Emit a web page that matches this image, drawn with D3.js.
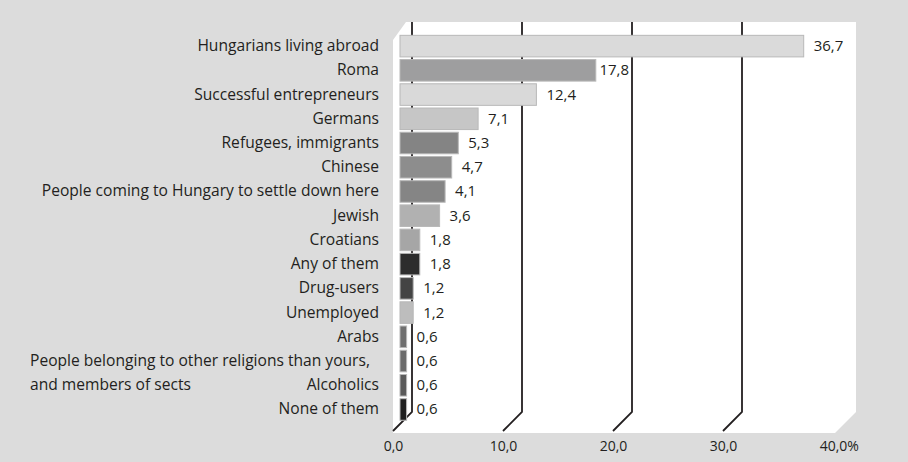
<!DOCTYPE html>
<html>
<head>
<meta charset="utf-8">
<script src="https://cdn.jsdelivr.net/npm/d3@7"></script>
<style>
  html, body { margin: 0; padding: 0; background: #dcdcdc; }
  svg { display: block; }
  text { font-family: "Open Sans", "Noto Sans", sans-serif; fill: #231f20; }
</style>
</head>
<body>
<svg id="chart" width="908" height="462"></svg>
<script>
// Share of answers per group (%)
const categories = [
  "Hungarians living abroad",
  "Roma",
  "Successful entrepreneurs",
  "Germans",
  "Refugees, immigrants",
  "Chinese",
  "People coming to Hungary to settle down here",
  "Jewish",
  "Croatians",
  "Any of them",
  "Drug-users",
  "Unemployed",
  "Arabs",
  "People belonging to other religions than yours, and members of sects",
  "Alcoholics",
  "None of them"
];
const values = [36.7, 17.8, 12.4, 7.1, 5.3, 4.7, 4.1, 3.6, 1.8, 1.8, 1.2, 1.2, 0.6, 0.6, 0.6, 0.6];
const tickValues = [0, 10, 20, 30, 40];

// Bar fills, one per category
const fills = [
  "#dadada", "#9e9e9f", "#d9d9d9", "#c6c6c6", "#848484", "#8d8d8d",
  "#858585", "#b1b1b1", "#a6a6a6", "#2d2d2d", "#444444", "#bdbdbd",
  "#707070", "#6b6b6b", "#5a5a5a", "#1f1f1f"
];

const svg = d3.select("#chart");
const W = 908, H = 462;
const FONT = "'Open Sans', 'Noto Sans', sans-serif";

// 3D layout: front plane and back wall offset
const depthX = 19, depthY = -19;
const backTop = 22, backBottom = 412;
const frontBottom = backBottom - depthY;
const barShift = 7; // bars sit between the front plane and the back wall

const x = d3.scaleLinear().domain([0, 40]).range([393, 833]);
const y = d3.scaleBand().domain(categories)
  .range([34, 421.6]).paddingInner(0.11).paddingOuter(0.055);

const fmt = v => d3.format(".1f")(v).replace(".", ",");

// background
svg.append("rect").attr("width", W).attr("height", H).attr("fill", "#dcdcdc");

// white plot area
const x0 = x(0), x40 = x(40);
svg.append("path")
  .attr("d", `M${x0},40 L${x0 + 13},${backTop} L${x40 + depthX + 4},${backTop}
              L${x40 + depthX + 4},${backBottom} L${x40 + 2},${frontBottom + 2}
              L${x0},${frontBottom + 2} Z`)
  .attr("fill", "#ffffff");

// gridlines: vertical on the back wall, diagonal down to the front
const gridX = tickValues.filter(t => t < 40).map(t => x(t) + depthX);
svg.append("g").selectAll("path")
  .data(tickValues.filter(t => t < 40))
  .join("path")
  .attr("d", t => `M${x(t) + depthX},${backTop} V${backBottom} L${x(t)},${frontBottom}`)
  .attr("fill", "none")
  .attr("stroke", "#231f20")
  .attr("stroke-width", 1.8);

// bars
svg.append("g").selectAll("rect")
  .data(values)
  .join("rect")
  .attr("x", x(0) + barShift)
  .attr("y", (d, i) => y(categories[i]))
  .attr("width", d => x(d) - x(0))
  .attr("height", y.bandwidth())
  .attr("fill", (d, i) => fills[i])
  .attr("stroke", "#b8b8b8")
  .attr("stroke-width", 1);

// value labels; pulled left when they would run into a gridline
svg.append("g").selectAll("text")
  .data(values)
  .join("text")
  .attr("x", d => x(d) + barShift + 10)
  .attr("y", (d, i) => y(categories[i]) + y.bandwidth() / 2 + 5)
  .attr("font-size", 15)
  .text(d => fmt(d))
  .each(function (d) {
    const start = x(d) + barShift + 10;
    const w = this.getComputedTextLength();
    const end = start + w;
    const hit = gridX.find(g => g > start && g < end + 2);
    if (hit !== undefined) {
      const shifted = Math.max(x(d) + barShift + 3, hit - 3 - w);
      d3.select(this).attr("x", shifted);
    }
  });

// category labels (long ones wrap after the comma, left aligned)
const labelRight = 379, labelLeft = 30, maxWidth = labelRight - labelLeft;
const catG = svg.append("g");
categories.forEach((c, i) => {
  const cy = y(c) + y.bandwidth() / 2 + 5;
  const t = catG.append("text")
    .attr("x", labelRight).attr("y", cy)
    .attr("font-size", 15.6).attr("text-anchor", "end")
    .text(c);
  if (t.node().getComputedTextLength() > maxWidth) {
    t.text(null).attr("text-anchor", "start").attr("x", labelLeft);
    const cut = c.indexOf(", ") + 1;
    [c.slice(0, cut), c.slice(cut + 1)].forEach((line, k) => {
      t.append("tspan").attr("x", labelLeft)
        .attr("y", cy + k * y.step()).text(line);
    });
  }
});

// x axis
const axis = d3.axisBottom(x).tickValues(tickValues).tickSize(0).tickFormat(fmt);
const axG = svg.append("g")
  .attr("transform", `translate(0,${frontBottom + 4})`)
  .call(axis);
axG.select(".domain").remove();
axG.selectAll("text")
  .attr("font-size", 14)
  .attr("font-family", FONT)
  .attr("fill", "#231f20")
  .attr("dy", "0.95em");
// percent sign after the last tick label
const lastTick = axG.selectAll(".tick").filter(d => d === 40);
const lastText = lastTick.select("text");
const half = lastText.node().getComputedTextLength() / 2;
lastTick.append("text")
  .attr("x", half)
  .attr("y", lastText.attr("y"))
  .attr("dy", "0.95em")
  .attr("font-size", 14)
  .attr("font-family", FONT)
  .attr("fill", "#231f20")
  .attr("text-anchor", "start")
  .text("%");
</script>
</body>
</html>
